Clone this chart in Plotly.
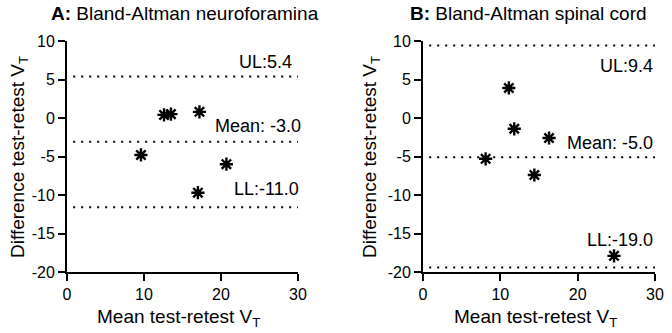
import plotly.graph_objects as go

# ---- data ----
a_mean = [9.6, 12.6, 13.5, 17.2, 20.7, 17.0]
a_diff = [-4.8, 0.4, 0.5, 0.8, -6.0, -9.7]
a_limits = {"UL": 5.4, "Mean": -3.1, "LL": -11.6}
a_labels = ["UL:5.4", "Mean: -3.0", "LL:-11.0"]

b_mean = [11.1, 11.8, 16.3, 8.1, 14.4, 24.7]
b_diff = [3.9, -1.4, -2.6, -5.3, -7.4, -17.9]
b_limits = {"UL": 9.4, "Mean": -5.1, "LL": -19.4}
b_labels = ["UL:9.4", "Mean: -5.0", "LL:-19.0"]

x_tick_vals = [0, 10, 20, 30]
x_tick_labels = ["0", "10", "20", "30"]
y_tick_vals = [-20, -15, -10, -5, 0, 5, 10]
y_tick_labels = ["-20", "-15", "-10", "-5", "0", "5", "10"]

titles = ["<b>A:</b> Bland-Altman neuroforamina", "<b>B:</b> Bland-Altman spinal cord"]

# ---- layout geometry (page pixels) ----
W, H = 672, 333
FONT = "Liberation Sans, Arial, sans-serif"

def px_x(p):
    return p / W

def px_y(p):
    return 1 - p / H

fig = go.Figure()

panels = [
    dict(xs=a_mean, ys=a_diff, lim=a_limits, labels=a_labels,
         label_shift=[-4, 5, 3], label_y=[7.3, -1.1, -9.2],
         dom=[67, 298], xa="x", ya="y", title_x=185, ytitle_x=19),
    dict(xs=b_mean, ys=b_diff, lim=b_limits, labels=b_labels,
         label_shift=[0, 0, 0], label_y=[6.7, -3.2, -15.8],
         dom=[423, 655], xa="x2", ya="y2", title_x=528, ytitle_x=371),
]

annotations = []
for i, p in enumerate(panels):
    # limit lines
    for key in ["UL", "Mean", "LL"]:
        v = p["lim"][key]
        fig.add_trace(go.Scatter(
            x=[0.8, 30], y=[v, v], mode="lines",
            line=dict(color="black", width=2, dash="2px,6px"),
            xaxis=p["xa"], yaxis=p["ya"], showlegend=False, hoverinfo="skip"))
    # points
    fig.add_trace(go.Scatter(
        x=p["xs"], y=p["ys"], mode="markers",
        marker=dict(symbol="asterisk-open", size=11, color="black",
                    line=dict(color="black", width=2.4)),
        xaxis=p["xa"], yaxis=p["ya"], showlegend=False, cliponaxis=False))
    # labels
    for txt, sh, ly in zip(p["labels"], p["label_shift"], p["label_y"]):
        annotations.append(dict(
            text=txt, x=30, y=ly, xref=p["xa"], yref=p["ya"], xshift=sh,
            xanchor="right", yanchor="middle", showarrow=False,
            font=dict(family=FONT, size=18, color="black")))
    # titles
    annotations.append(dict(
        text=titles[i], x=px_x(p["title_x"]), y=px_y(13), xref="paper", yref="paper",
        xanchor="center", yanchor="middle", showarrow=False,
        font=dict(family=FONT, size=19, color="black")))
    # axis titles
    cx = (p["dom"][0] + p["dom"][1]) / 2
    annotations.append(dict(
        text="Mean test-retest V<sub>T</sub>", x=px_x(cx - 4), y=px_y(318),
        xref="paper", yref="paper", xanchor="center", yanchor="middle",
        showarrow=False, font=dict(family=FONT, size=19, color="black")))
    annotations.append(dict(
        text="Difference test-retest V<sub>T</sub>", x=px_x(p["ytitle_x"]), y=px_y(157),
        xref="paper", yref="paper", xanchor="center", yanchor="middle",
        textangle=-90, showarrow=False,
        font=dict(family=FONT, size=19, color="black")))

axis_common = dict(
    showgrid=False, zeroline=False, showline=True, linecolor="black", linewidth=2,
    ticks="outside", ticklen=7, tickwidth=2, tickcolor="black",
    tickfont=dict(family=FONT, size=16, color="black"))

ydom = [px_y(272), px_y(41)]
fig.update_layout(
    width=W, height=H,
    margin=dict(l=0, r=0, t=0, b=0, autoexpand=False),
    paper_bgcolor="white", plot_bgcolor="white",
    showlegend=False,
    annotations=annotations,
    xaxis=dict(domain=[px_x(67), px_x(298)], range=[0, 30], anchor="y",
               tickvals=x_tick_vals, ticktext=x_tick_labels, **axis_common),
    yaxis=dict(domain=ydom, range=[-20, 10], anchor="x",
               tickvals=y_tick_vals, ticktext=y_tick_labels, **axis_common),
    xaxis2=dict(domain=[px_x(423), px_x(655)], range=[0, 30], anchor="y2",
                tickvals=x_tick_vals, ticktext=x_tick_labels, **axis_common),
    yaxis2=dict(domain=ydom, range=[-20, 10], anchor="x2",
                tickvals=y_tick_vals, ticktext=y_tick_labels, **axis_common),
)

fig.write_html("out.html", config={"displayModeBar": False},
               post_script="document.body.style.margin='0px';")
